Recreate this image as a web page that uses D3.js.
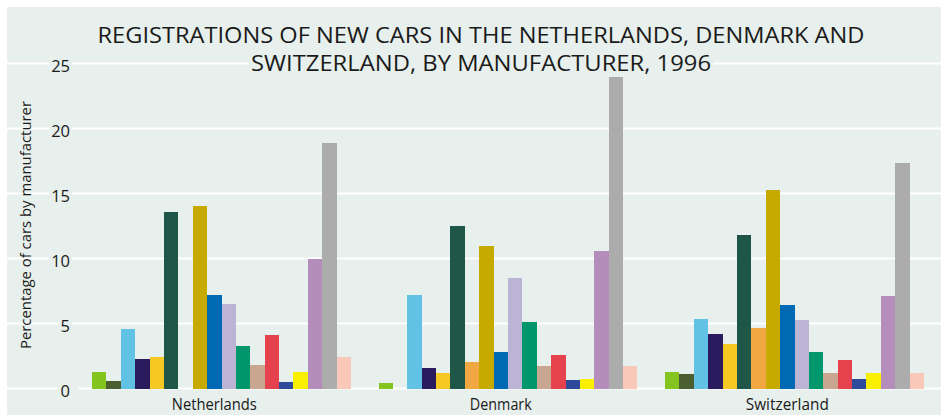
<!DOCTYPE html>
<html>
<head>
<meta charset="utf-8">
<script src="https://cdn.jsdelivr.net/npm/d3@7"></script>
<style>
  html, body { margin: 0; padding: 0; background: #ffffff; }
  svg { display: block; }
  text { font-family: "Open Sans", "Noto Sans", sans-serif; fill: #1a1a1a; }
</style>
</head>
<body>
<svg id="chart" width="941" height="415"></svg>
<script>
// Countries along the x axis
const countries = ["Netherlands", "Denmark", "Switzerland"];

// Manufacturer series (one bar per manufacturer in each country group)
const manufacturers = ["m01", "m02", "m03", "m04", "m05", "m06", "m07", "m08", "m09",
                       "m10", "m11", "m12", "m13", "m14", "m15", "m16", "m17", "m18"];

// Share of new-car registrations (%), 1996, in manufacturer order
const netherlands = [1.25, 0.55, 4.55, 2.25, 2.4, 13.55, 0, 14.05, 7.2, 6.5, 3.25, 1.8, 4.1, 0.5, 1.25, 9.95, 18.9, 2.4];
const denmark     = [0.4, 0, 7.2, 1.55, 1.2, 12.5, 2.05, 10.95, 2.8, 8.5, 5.1, 1.75, 2.55, 0.65, 0.7, 10.6, 24.05, 1.75];
const switzerland = [1.25, 1.1, 5.35, 4.2, 3.4, 11.8, 4.65, 15.25, 6.4, 5.25, 2.8, 1.2, 2.2, 0.7, 1.2, 7.1, 17.35, 1.2];

// Y axis tick values
const yTicks = [0, 5, 10, 15, 20, 25];

const titleLines = [
  "REGISTRATIONS OF NEW CARS IN THE NETHERLANDS, DENMARK AND",
  "SWITZERLAND, BY MANUFACTURER, 1996"
];
const yTitle = "Percentage of cars by manufacturer";

const seriesColors = ["#84c41f", "#4a5e30", "#62c2e6", "#2a1a5e", "#f5c823", "#1e5747",
                      "#f2a842", "#c6aa00", "#0069b4", "#bcb4d4", "#00976c", "#c8a690",
                      "#e5424e", "#2e4a9a", "#f8f000", "#b48dbb", "#acacac", "#f9c8b8"];

const valuesByCountry = {
  "Netherlands": netherlands,
  "Denmark": denmark,
  "Switzerland": switzerland
};
const rows = countries.map(c => ({
  country: c,
  values: manufacturers.map((m, i) => ({ key: m, value: valuesByCountry[c][i] }))
}));

const bg = "#e7f0ec";
const svg = d3.select("#chart");

// Panel background
svg.append("rect")
  .attr("x", 7).attr("y", 7)
  .attr("width", 941 - 7).attr("height", 415 - 7)
  .attr("fill", bg);

// Scales
const y = d3.scaleLinear().domain([0, 25]).range([388.5, 63.5]);
const x0 = d3.scaleBand().domain(countries)
  .range([78.25, 937.75])
  .paddingInner(0.096)
  .paddingOuter(0.048);
const x1 = d3.scaleBand().domain(manufacturers).range([0, x0.bandwidth()]).padding(0);
const color = d3.scaleOrdinal().domain(manufacturers).range(seriesColors);

// Gridlines
svg.append("g")
  .selectAll("line")
  .data(yTicks)
  .join("line")
  .attr("x1", 7).attr("x2", 941)
  .attr("y1", d => y(d)).attr("y2", d => y(d))
  .attr("stroke", "#ffffff")
  .attr("stroke-width", 2);

// Y tick labels with a knock-out behind them
const yAxis = d3.axisLeft(y).tickValues(yTicks).tickSize(0).tickPadding(0);
const gy = svg.append("g").attr("transform", "translate(70,0)").call(yAxis);
gy.select(".domain").remove();
gy.selectAll(".tick text")
  .attr("x", 0)
  .attr("dy", "0.47em")
  .attr("text-anchor", "end")
  .style("font-family", '"Open Sans", "Noto Sans", sans-serif')
  .style("font-size", "16.5px")
  .style("fill", "#1a1a1a");
gy.selectAll(".tick").each(function (d) {
  const t = d3.select(this).select("text");
  const b = t.node().getBBox();
  const extra = d === 0 ? 8 : 2;
  d3.select(this).insert("rect", "text")
    .attr("x", b.x - 2).attr("y", -3)
    .attr("width", b.width + 2 + extra).attr("height", 6)
    .attr("fill", bg);
});

// Y axis title
svg.append("text")
  .attr("transform", "translate(31,225) rotate(-90)")
  .attr("text-anchor", "middle")
  .attr("textLength", 248)
  .attr("lengthAdjust", "spacingAndGlyphs")
  .style("font-size", "14px")
  .text(yTitle);

// Bars
const groups = svg.append("g")
  .selectAll("g")
  .data(rows)
  .join("g")
  .attr("transform", d => `translate(${x0(d.country)},0)`);

groups.selectAll("rect")
  .data(d => d.values)
  .join("rect")
  .attr("x", d => x1(d.key))
  .attr("width", x1.bandwidth())
  .attr("y", d => y(d.value))
  .attr("height", d => y(0) - y(d.value))
  .attr("fill", d => color(d.key))
  .attr("shape-rendering", "crispEdges");

// Country labels
const labelKey = manufacturers[8];
const countryLabelWidths = { "Netherlands": 85, "Denmark": 62, "Switzerland": 83 };
svg.append("g")
  .selectAll("text")
  .data(countries)
  .join("text")
  .attr("x", d => x0(d) + x1(labelKey) + x1.bandwidth() / 2)
  .attr("y", 409.5)
  .attr("text-anchor", "middle")
  .attr("textLength", d => countryLabelWidths[d])
  .attr("lengthAdjust", "spacingAndGlyphs")
  .style("font-size", "15.5px")
  .text(d => d);

// Title (two centred lines, knocking out the gridline beneath)
const titleG = svg.append("g");
const titleSpecs = [
  { text: titleLines[0], y: 42.5, width: 767 },
  { text: titleLines[1], y: 71, width: 460 }
];
titleSpecs.forEach(s => {
  const bgRect = titleG.append("rect").attr("fill", bg);
  const t = titleG.append("text")
    .attr("x", 481)
    .attr("y", s.y)
    .attr("text-anchor", "middle")
    .attr("textLength", s.width)
    .attr("lengthAdjust", "spacingAndGlyphs")
    .style("font-size", "21.5px")
    .text(s.text);
  const b = t.node().getBBox();
  bgRect.attr("x", 481 - s.width / 2 - 2).attr("y", b.y)
    .attr("width", s.width + 4).attr("height", b.height);
});
</script>
</body>
</html>
